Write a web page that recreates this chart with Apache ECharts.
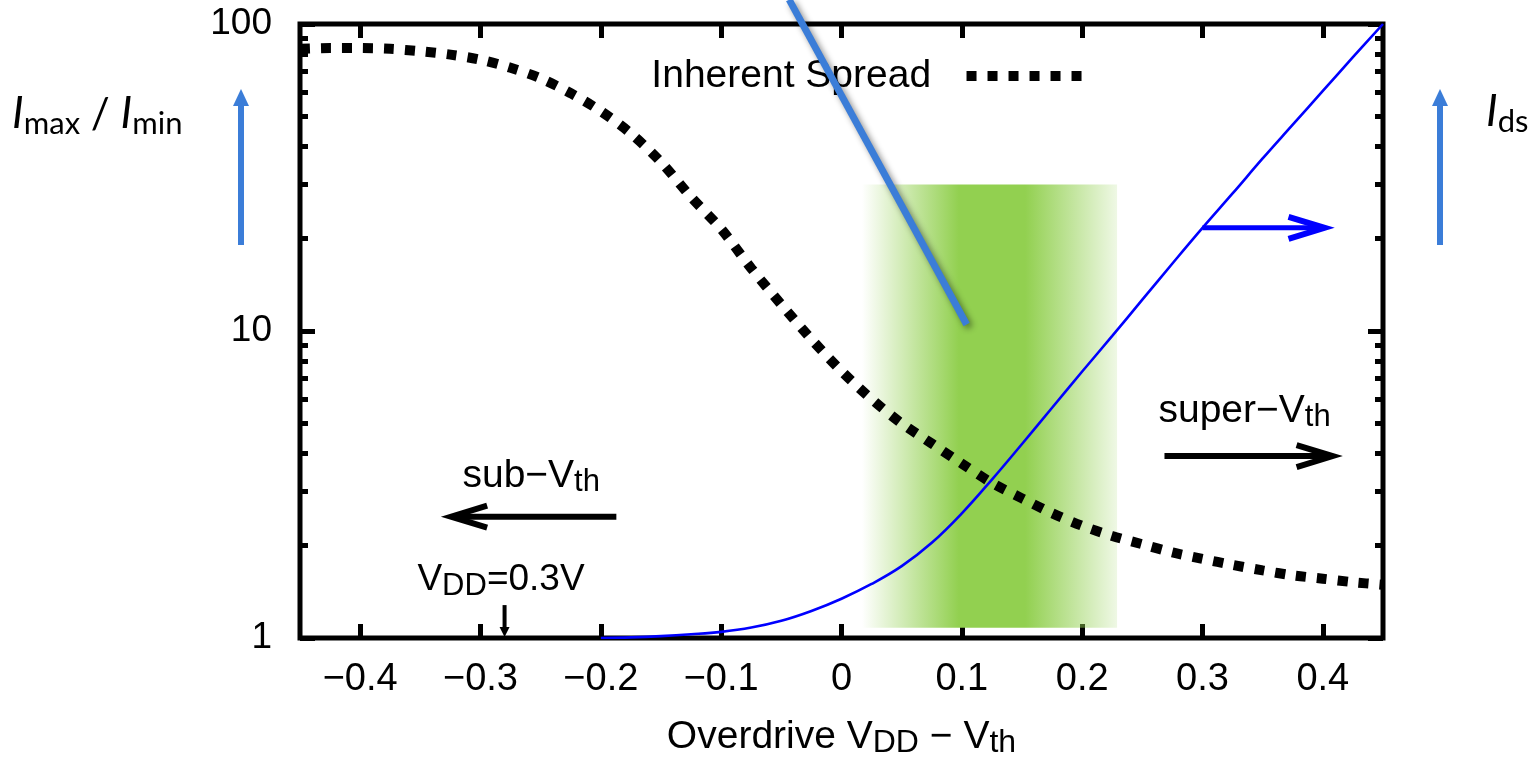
<!DOCTYPE html>
<html><head><meta charset="utf-8">
<script src="https://cdn.jsdelivr.net/npm/echarts@6/dist/echarts.min.js"></script>
<style>html,body{margin:0;padding:0;background:#fff}#c{width:1535px;height:764px}</style>
</head><body><div id="c"></div>
<script>
// ---------- data ----------
const xValues = [-0.45, -0.425, -0.4, -0.375, -0.35, -0.325, -0.3, -0.275, -0.25, -0.225, -0.2, -0.175, -0.15, -0.125, -0.1, -0.075, -0.05, -0.025, 0, 0.025, 0.05, 0.075, 0.1, 0.125, 0.15, 0.175, 0.2, 0.225, 0.25, 0.275, 0.3, 0.325, 0.35, 0.375, 0.4, 0.425, 0.45];
const inherentSpread = [83, 83.5, 83.5, 83, 81.5, 79.5, 76.5, 72, 66.5, 59.5, 52, 44, 35.5, 27.3, 21.5, 16, 12.2, 9.4, 7.4, 6.0, 5.0, 4.3, 3.7, 3.2, 2.85, 2.55, 2.32, 2.15, 2.02, 1.9, 1.81, 1.73, 1.66, 1.6, 1.56, 1.52, 1.49];
// Ids on its own (unlabelled, linear) right-hand scale, arbitrary units 0..1
const idsX = [-0.2, -0.175, -0.15, -0.125, -0.1, -0.075, -0.05, -0.025, 0, 0.025, 0.05, 0.075, 0.1, 0.125, 0.15, 0.175, 0.2, 0.225, 0.25, 0.275, 0.3, 0.325, 0.35, 0.375, 0.4, 0.425, 0.45];
const idsValues = [0.0, 0.001, 0.003, 0.006, 0.010, 0.017, 0.028, 0.044, 0.064, 0.088, 0.117, 0.155, 0.203, 0.258, 0.316, 0.375, 0.434, 0.492, 0.551, 0.610, 0.668, 0.724, 0.781, 0.836, 0.891, 0.946, 1.0];
const xTicks = [-0.4, -0.3, -0.2, -0.1, 0, 0.1, 0.2, 0.3, 0.4];
const yTicks = [1, 10, 100];
const yMinorTicks = [2, 3, 4, 5, 6, 7, 8, 9, 20, 30, 40, 50, 60, 70, 80, 90];
const greenBand = [0.017, 0.229, 1.08, 30];          // x from, x to, y from, y to
const pointerLine = [-0.0435, 120, 0.104, 10.5];     // x0, y0, x1, y1
const vddMark = -0.28;                                 // overdrive at VDD = 0.3 V
const idsArrowFrom = 0.3, idsArrowTo = 0.4014;

const FONT = '"Liberation Sans", Arial, Helvetica, sans-serif';
const LFONT = 'Lato, "Open Sans", sans-serif';
const BLUE_ANN = '#3B7DD8';
const subRich = { sub: { fontSize: 31, lineHeight: 12, verticalAlign: 'bottom', fontFamily: FONT, color: '#000' } };
const fmtX = v => (v < 0 ? '\u2212' : '') + Math.abs(v);

const chart = echarts.init(document.getElementById('c'), null, { renderer: 'canvas' });

function chevron(tip, dir, len, half, color, w) {
  return { type: 'polyline', shape: { points: [[tip[0] - dir * len, tip[1] - half], tip, [tip[0] - dir * len, tip[1] + half]] },
           style: { stroke: color, lineWidth: w, fill: null, lineJoin: 'miter' } };
}
function textEl(pt, text, size) {
  return { type: 'text', x: pt[0], y: pt[1],
    style: { text: text, fontSize: size || 38, fontFamily: FONT, fill: '#000', align: 'left', verticalAlign: 'middle', lineHeight: 44, rich: subRich } };
}

const yAxisBase = { type: 'log', logBase: 10, min: 1, max: 100, splitLine: { show: false }, axisLine: { show: false, onZero: false } };
const tickStyle = { color: '#000', width: 5 };

const option = {
  animation: false,
  backgroundColor: '#fff',
  grid: { left: 300, right: 152, top: 24, bottom: 126, show: true, borderColor: '#000', borderWidth: 5, backgroundColor: 'transparent', containLabel: false, outerBoundsMode: 'none' },
  xAxis: [
    { type: 'value', min: -0.45, max: 0.45, position: 'bottom',
      axisLine: { show: false, onZero: false }, splitLine: { show: false },
      axisTick: { show: true, inside: true, length: 14, lineStyle: tickStyle, customValues: xTicks },
      axisLabel: { show: true, customValues: xTicks, formatter: fmtX, fontSize: 38, fontFamily: FONT, color: '#000', margin: 22, lineHeight: 40 },
      name: 'Overdrive V{sub|DD} \u2212 V{sub|th}', nameLocation: 'middle', nameGap: 77,
      nameTextStyle: { fontSize: 39, fontFamily: FONT, color: '#000', lineHeight: 44,
        rich: { sub: { fontSize: 32, lineHeight: 12, verticalAlign: 'bottom', fontFamily: FONT, color: '#000' } } } },
    { type: 'value', min: -0.45, max: 0.45, position: 'top',
      axisLine: { show: false, onZero: false }, splitLine: { show: false }, axisLabel: { show: false },
      axisTick: { show: true, inside: true, length: 14, lineStyle: tickStyle, customValues: xTicks } }
  ],
  yAxis: [
    Object.assign({}, yAxisBase, { position: 'left',
      axisTick: { show: true, inside: true, length: 15, lineStyle: tickStyle, customValues: yTicks },
      axisLabel: { show: true, customValues: yTicks, fontSize: 37, fontFamily: FONT, color: '#000', margin: 28 } }),
    Object.assign({}, yAxisBase, { position: 'right',
      axisTick: { show: true, inside: true, length: 15, lineStyle: tickStyle, customValues: yTicks },
      axisLabel: { show: false } }),
    Object.assign({}, yAxisBase, { position: 'left',
      axisTick: { show: true, inside: true, length: 8, lineStyle: tickStyle, customValues: yMinorTicks },
      axisLabel: { show: false } }),
    Object.assign({}, yAxisBase, { position: 'right',
      axisTick: { show: true, inside: true, length: 8, lineStyle: tickStyle, customValues: yMinorTicks },
      axisLabel: { show: false } }),
    { type: 'value', name: 'Ids', show: false, min: 0, max: 1, position: 'right', axisLine: { onZero: false } }
  ],
  series: [
    { type: 'custom', name: 'Operating region', silent: true, z: 1, xAxisIndex: 0, yAxisIndex: 0,
      encode: { x: [0, 1], y: [2, 3] }, data: [greenBand],
      renderItem: (params, api) => {
        const p0 = api.coord([api.value(0), api.value(3)]);
        const p1 = api.coord([api.value(1), api.value(2)]);
        return { type: 'rect', shape: { x: p0[0], y: p0[1], width: p1[0] - p0[0], height: p1[1] - p0[1] },
          style: { fill: new echarts.graphic.LinearGradient(0, 0, 1, 0, [
            { offset: 0, color: 'rgba(146,208,80,0)' },
            { offset: 0.38, color: 'rgba(146,208,80,1)' },
            { offset: 0.64, color: 'rgba(146,208,80,1)' },
            { offset: 1, color: 'rgba(146,208,80,0.15)' } ]) } };
      } },
    { type: 'line', name: 'Inherent Spread', xAxisIndex: 0, yAxisIndex: 0, z: 3,
      data: xValues.map((x, i) => [x, inherentSpread[i]]),
      showSymbol: false, symbol: 'none', smooth: 0.3, clip: true,
      lineStyle: { color: '#000', width: 10, type: [10, 11], cap: 'butt' } },
    { type: 'line', name: 'Ids', xAxisIndex: 0, yAxisIndex: 4, z: 4,
      data: idsX.map((x, i) => [x, idsValues[i]]),
      showSymbol: false, symbol: 'none', smooth: 0.4, clip: true,
      lineStyle: { color: '#0000ff', width: 2.6 } },
    { type: 'custom', name: 'Ids arrow', silent: true, z: 5, xAxisIndex: 0, yAxisIndex: 4, clip: false,
      encode: { x: [0, 1], y: 2 }, data: [[idsArrowFrom, idsArrowTo, idsValues[idsX.indexOf(idsArrowFrom)]]],
      renderItem: (params, api) => {
        const a0 = api.coord([api.value(0), api.value(2)]), a1 = api.coord([api.value(1), api.value(2)]);
        return { type: 'group', children: [
          { type: 'line', shape: { x1: a0[0], y1: a0[1], x2: a1[0] - 3, y2: a1[1] }, style: { stroke: '#0000ff', lineWidth: 5 } },
          chevron(a1, 1, 36, 11, '#0000ff', 6) ] };
      } },
    { type: 'custom', name: 'annotations', silent: true, z: 5, xAxisIndex: 0, yAxisIndex: 0, clip: false,
      encode: { x: 0, y: 1 }, data: [[0, 1]],
      renderItem: (params, api) => {
        const c = (x, y) => api.coord([x, y]);
        const children = [];
        children.push(textEl(c(-0.158, 67.7), 'Inherent Spread', 39));
        const l0 = c(0.1039, 67.7), l1 = c(0.1995, 67.7);
        children.push({ type: 'line', shape: { x1: l0[0], y1: l0[1], x2: l1[0], y2: l1[1] },
          style: { stroke: '#000', lineWidth: 10, lineDash: [10, 11], lineCap: 'butt' } });
        children.push(textEl(c(0.2634, 5.49), 'super\u2212V{sub|th}', 39));
        const s0 = c(0.2684, 3.915), s1 = c(0.4081, 3.915);
        children.push({ type: 'line', shape: { x1: s0[0], y1: s0[1], x2: s1[0] - 3, y2: s1[1] }, style: { stroke: '#000', lineWidth: 6 } });
        children.push(chevron(s1, 1, 36, 11, '#000', 6));
        children.push(textEl(c(-0.315, 3.37), 'sub\u2212V{sub|th}', 39));
        const b0 = c(-0.1871, 2.484), b1 = c(-0.3244, 2.484);
        children.push({ type: 'line', shape: { x1: b0[0], y1: b0[1], x2: b1[0] + 3, y2: b1[1] }, style: { stroke: '#000', lineWidth: 6 } });
        children.push(chevron(b1, -1, 36, 11, '#000', 6));
        children.push(textEl(c(-0.3524, 1.545), 'V{sub|DD}=0.3V', 37));
        const v0 = c(vddMark, 1.28), v1 = c(vddMark, 1.0);
        children.push({ type: 'line', shape: { x1: v0[0], y1: v0[1], x2: v1[0], y2: v1[1] - 9 }, style: { stroke: '#000', lineWidth: 4 } });
        children.push({ type: 'polygon', shape: { points: [[v1[0] - 5, v1[1] - 11], [v1[0] + 5, v1[1] - 11], [v1[0], v1[1] - 1]] }, style: { fill: '#000' } });
        const q0 = c(pointerLine[0], pointerLine[1]), q1 = c(pointerLine[2], pointerLine[3]);
        children.push({ type: 'line', shape: { x1: q0[0], y1: q0[1], x2: q1[0], y2: q1[1] },
          style: { stroke: BLUE_ANN, lineWidth: 7, lineCap: 'butt', shadowBlur: 6, shadowColor: 'rgba(0,0,0,0.45)', shadowOffsetX: 3, shadowOffsetY: 3 } });
        return { type: 'group', children: children };
      } }
  ],
  graphic: [
    { type: 'text', x: 12, y: 114, silent: true,
      style: { text: '{i|I}{s|max}{n| / }{i|I}{s|min}', align: 'left', verticalAlign: 'middle',
        rich: { i: { fontSize: 44, fontStyle: 'italic', fontFamily: LFONT, color: '#000', lineHeight: 50 },
                n: { fontSize: 42, fontFamily: LFONT, color: '#000', lineHeight: 50 },
                s: { fontSize: 31, fontFamily: LFONT, color: '#000', lineHeight: 16, verticalAlign: 'bottom' } } } },
    { type: 'text', x: 1486, y: 112, silent: true,
      style: { text: '{i|I}{s|ds}', align: 'left', verticalAlign: 'middle',
        rich: { i: { fontSize: 44, fontStyle: 'italic', fontFamily: LFONT, color: '#000', lineHeight: 50 },
                s: { fontSize: 31, fontFamily: LFONT, color: '#000', lineHeight: 16, verticalAlign: 'bottom' } } } },
    { type: 'line', silent: true, shape: { x1: 241, y1: 245, x2: 241, y2: 104 }, style: { stroke: BLUE_ANN, lineWidth: 6 } },
    { type: 'polygon', silent: true, shape: { points: [[233, 106], [249, 106], [241, 89]] }, style: { fill: BLUE_ANN } },
    { type: 'line', silent: true, shape: { x1: 1440, y1: 245, x2: 1440, y2: 104 }, style: { stroke: BLUE_ANN, lineWidth: 6 } },
    { type: 'polygon', silent: true, shape: { points: [[1432, 106], [1448, 106], [1440, 89]] }, style: { fill: BLUE_ANN } }
  ]
};
chart.setOption(option);
</script>
</body></html>
